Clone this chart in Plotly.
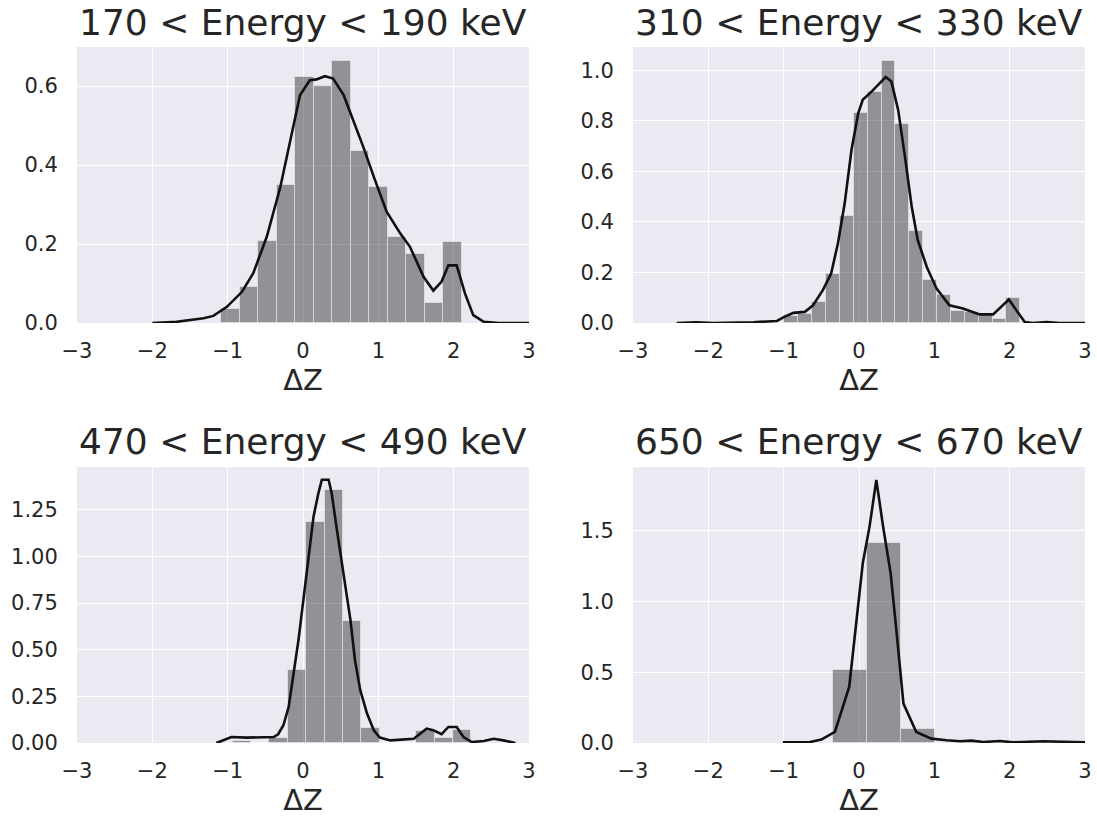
import plotly.graph_objects as go

# ---------------- data ----------------
titles = ["170 < Energy < 190 keV", "310 < Energy < 330 keV",
          "470 < Energy < 490 keV", "650 < Energy < 670 keV"]

# histogram bins (left edge of first bin, bin width, densities)
p1_bin_start = -1.088
p1_bin_width = 0.246
p1_heights = [0.035, 0.090, 0.208, 0.349, 0.624, 0.600, 0.663, 0.436,
              0.345, 0.218, 0.174, 0.050, 0.204]

p2_bin_start = -2.28
p2_bin_width = 0.1842
p2_heights = [0.005, 0, 0, 0, 0, 0, 0, 0.026, 0.034, 0.083, 0.196, 0.425,
              0.831, 0.913, 1.038, 0.787, 0.364, 0.169, 0.110, 0.048,
              0.044, 0.030, 0.015, 0.101]

p3_bin_start = -0.932
p3_bin_width = 0.2435
p3_heights = [0.012, 0, 0.028, 0.394, 1.183, 1.355, 0.656, 0.082,
              0, 0, 0.062, 0.029, 0.068]

p4_bin_start = -0.343
p4_bin_width = 0.451
p4_heights = [0.519, 1.415, 0.101]

# KDE curves
p1_kde_x = [-2.0, -1.68, -1.32, -1.19, -1.01, -0.81, -0.66, -0.48, -0.30,
            -0.17, -0.04, 0.09, 0.18, 0.29, 0.40, 0.54, 0.67, 0.80, 0.94,
            1.11, 1.29, 1.42, 1.60, 1.73, 1.84, 1.93, 2.04, 2.15, 2.26,
            2.40, 2.60, 3.0]
p1_kde_y = [0.0, 0.003, 0.012, 0.018, 0.041, 0.079, 0.126, 0.219, 0.345,
            0.463, 0.577, 0.615, 0.617, 0.625, 0.619, 0.577, 0.514, 0.446,
            0.370, 0.282, 0.227, 0.193, 0.117, 0.082, 0.105, 0.146, 0.146,
            0.075, 0.020, 0.003, 0.0, 0.0]

p2_kde_x = [-2.42, -2.16, -1.93, -1.40, -1.09, -0.98, -0.87, -0.72, -0.61,
            -0.48, -0.37, -0.28, -0.19, -0.10, -0.01, 0.05, 0.17, 0.28,
            0.355, 0.43, 0.52, 0.61, 0.70, 0.78, 0.90, 1.03, 1.20, 1.38,
            1.60, 1.78, 1.89, 1.99, 2.09, 2.20, 2.31, 2.49, 2.66, 3.0]
p2_kde_y = [0.0, 0.003, 0.0, 0.003, 0.008, 0.026, 0.040, 0.044, 0.070,
            0.130, 0.196, 0.315, 0.474, 0.685, 0.831, 0.884, 0.917, 0.950,
            0.974, 0.956, 0.844, 0.659, 0.460, 0.328, 0.222, 0.136, 0.070,
            0.057, 0.034, 0.034, 0.063, 0.093, 0.050, 0.004, 0.0, 0.004,
            0.0, 0.0]

p3_kde_x = [-1.15, -1.06, -0.95, -0.75, -0.57, -0.39, -0.33, -0.26, -0.19,
            -0.13, -0.06, 0.005, 0.07, 0.14, 0.205, 0.25, 0.34, 0.38, 0.45,
            0.54, 0.63, 0.69, 0.76, 0.85, 0.94, 1.02, 1.16, 1.47, 1.56,
            1.64, 1.73, 1.84, 1.93, 2.04, 2.13, 2.24, 2.40, 2.53, 2.66, 2.82]
p3_kde_y = [0.0, 0.014, 0.032, 0.029, 0.029, 0.032, 0.047, 0.095, 0.194,
            0.355, 0.552, 0.767, 0.991, 1.215, 1.341, 1.412, 1.412, 1.341,
            1.143, 0.892, 0.659, 0.444, 0.283, 0.158, 0.068, 0.029, 0.014,
            0.023, 0.050, 0.077, 0.068, 0.047, 0.086, 0.086, 0.032, 0.005,
            0.011, 0.023, 0.014, 0.0]

p4_kde_x = [-1.01, -0.65, -0.50, -0.32, -0.13, -0.03, 0.05, 0.14, 0.23,
            0.32, 0.42, 0.50, 0.59, 0.76, 0.96, 1.16, 1.34, 1.49, 1.65,
            1.87, 2.05, 2.44, 3.0]
p4_kde_y = [0.005, 0.007, 0.024, 0.078, 0.396, 0.892, 1.269, 1.528, 1.858,
            1.528, 1.198, 0.774, 0.278, 0.078, 0.031, 0.019, 0.012, 0.017,
            0.007, 0.014, 0.005, 0.012, 0.005]

y_ranges = [[0, 0.699], [0, 1.093], [0, 1.48], [0, 1.949]]
y_ticks = [[0, 0.2, 0.4, 0.6], [0, 0.2, 0.4, 0.6, 0.8, 1.0],
           [0, 0.25, 0.5, 0.75, 1.0, 1.25], [0, 0.5, 1.0, 1.5]]
y_ticktext = [["0.0", "0.2", "0.4", "0.6"],
              ["0.0", "0.2", "0.4", "0.6", "0.8", "1.0"],
              ["0.00", "0.25", "0.50", "0.75", "1.00", "1.25"],
              ["0.0", "0.5", "1.0", "1.5"]]
x_ticks = [-3, -2, -1, 0, 1, 2, 3]
x_label = "ΔZ"

panels = [
    (p1_bin_start, p1_bin_width, p1_heights, p1_kde_x, p1_kde_y),
    (p2_bin_start, p2_bin_width, p2_heights, p2_kde_x, p2_kde_y),
    (p3_bin_start, p3_bin_width, p3_heights, p3_kde_x, p3_kde_y),
    (p4_bin_start, p4_bin_width, p4_heights, p4_kde_x, p4_kde_y),
]

# ---------------- figure ----------------
W, H = 1097, 821
x_domains = [[77 / W, 529 / W], [633 / W, 1085 / W]]
y_domains = [[(H - 323) / H, (H - 47) / H], [(H - 743) / H, (H - 467) / H]]

FONT = "DejaVu Sans"
TXT = "#262626"

fig = go.Figure()
layout = dict(
    width=W, height=H,
    margin=dict(l=0, r=0, t=0, b=0, autoexpand=False),
    paper_bgcolor="white",
    plot_bgcolor="#EAEAF2",
    showlegend=False,
    font=dict(family=FONT, color=TXT),
    bargap=0,
)

annotations = []
for i, (bstart, bwidth, heights, kx, ky) in enumerate(panels):
    ax = "" if i == 0 else str(i + 1)
    col, row = i % 2, i // 2
    centers = [bstart + bwidth * (k + 0.5) for k in range(len(heights))]
    fig.add_trace(go.Bar(
        x=centers, y=heights, width=bwidth,
        marker=dict(color="rgba(0,0,0,0.38)",
                    line=dict(color="rgba(255,255,255,0.45)", width=1)),
        xaxis="x" + ax, yaxis="y" + ax, hoverinfo="skip",
    ))
    fig.add_trace(go.Scatter(
        x=kx, y=ky, mode="lines",
        line=dict(color="#111111", width=2.6),
        xaxis="x" + ax, yaxis="y" + ax, hoverinfo="skip",
    ))
    layout["xaxis" + ax] = dict(
        domain=x_domains[col], anchor="y" + ax, range=[-3, 3],
        tickvals=x_ticks, showgrid=True, gridcolor="white", gridwidth=1.4,
        zeroline=False, showline=False, automargin=False,
        ticks="outside", ticklen=9, tickcolor="rgba(0,0,0,0)",
        tickfont=dict(size=21, family=FONT, color=TXT),
        title=dict(text=x_label, font=dict(size=29, family=FONT, color=TXT),
                   standoff=2),
    )
    layout["yaxis" + ax] = dict(
        domain=y_domains[row], anchor="x" + ax, range=y_ranges[i],
        tickvals=y_ticks[i], ticktext=y_ticktext[i],
        showgrid=True, gridcolor="white", gridwidth=1.4,
        zeroline=False, showline=False, automargin=False,
        ticks="outside", ticklen=14, tickcolor="rgba(0,0,0,0)",
        tickfont=dict(size=21, family=FONT, color=TXT),
    )
    xc = (x_domains[col][0] + x_domains[col][1]) / 2
    ytitle = (H - 22) / H if row == 0 else (H - 441) / H
    annotations.append(dict(
        text=titles[i], x=xc, y=ytitle, xref="paper", yref="paper",
        xanchor="center", yanchor="middle", showarrow=False,
        font=dict(size=36, family=FONT, color=TXT),
    ))

layout["annotations"] = annotations
fig.update_layout(**layout)
fig.write_html("out.html")
